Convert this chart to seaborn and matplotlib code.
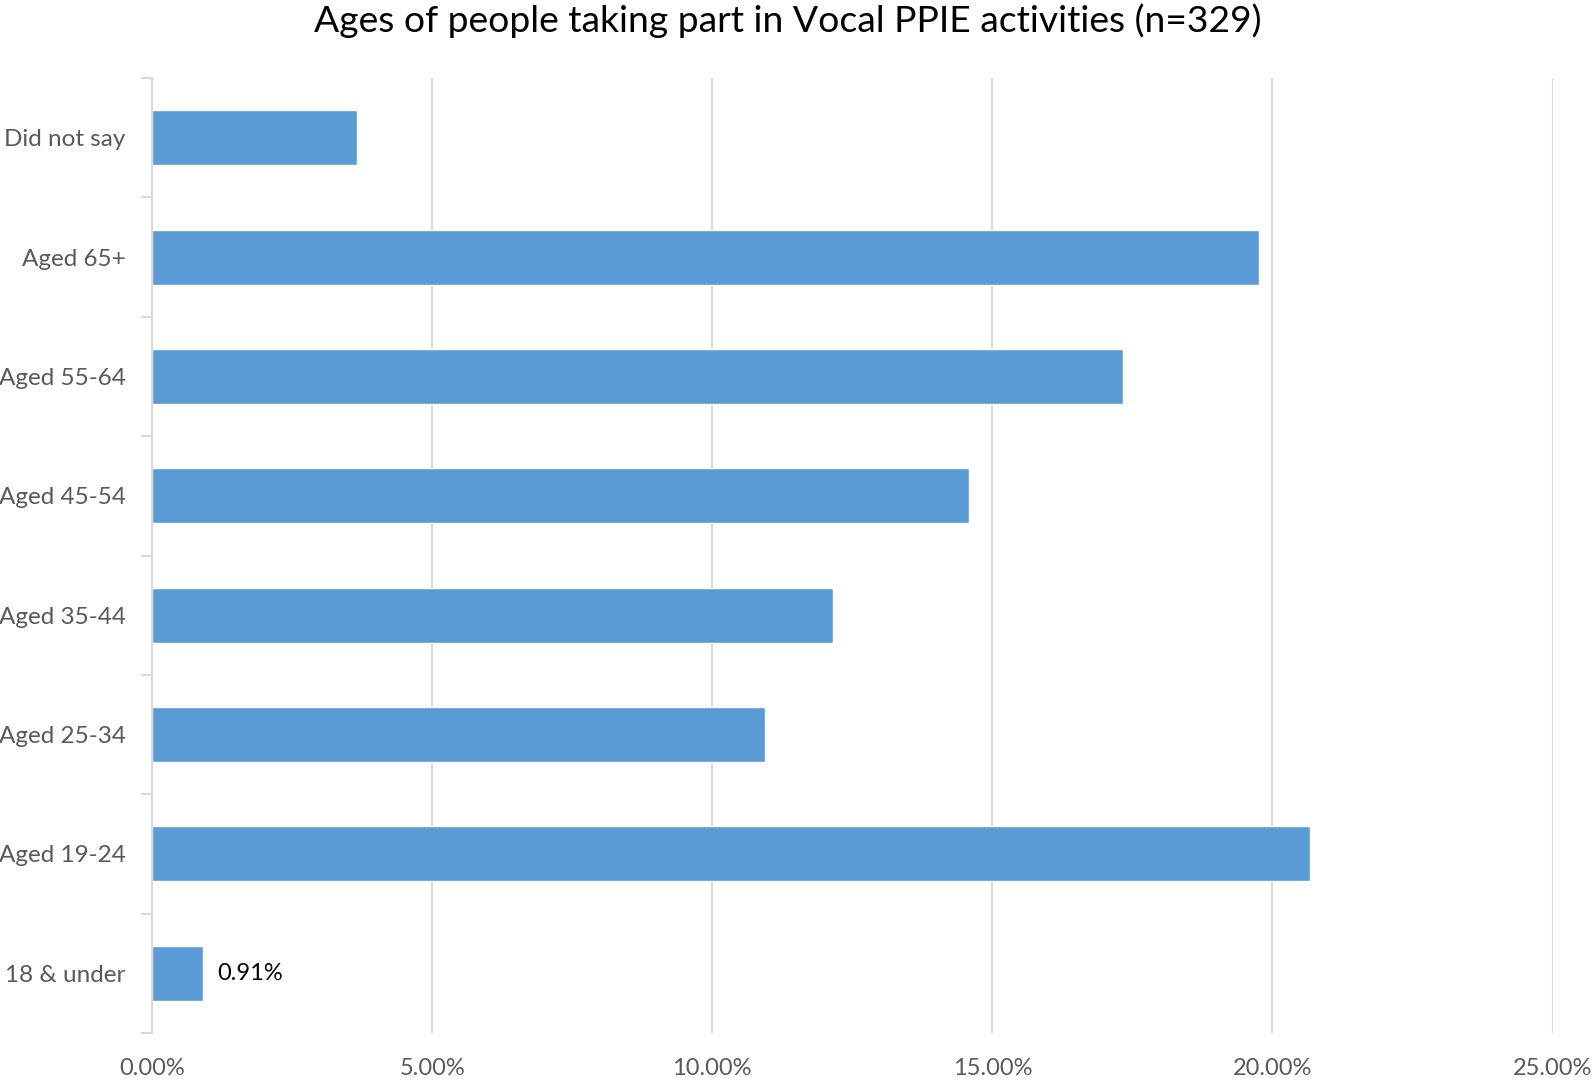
import matplotlib
matplotlib.use("Agg")
import matplotlib.pyplot as plt
import seaborn as sns
import pandas as pd
from matplotlib.ticker import FuncFormatter, FixedLocator

# Data (share of n=329 respondents, %)
age_groups = ["Did not say", "Aged 65+", "Aged 55-64", "Aged 45-54",
              "Aged 35-44", "Aged 25-34", "Aged 19-24", "18 & under"]
percentages = [3.65, 19.76, 17.33, 14.59, 12.16, 10.94, 20.67, 0.91]
x_ticks = [0, 5, 10, 15, 20, 25]

df = pd.DataFrame({"Age": age_groups, "Percent": percentages})

sns.set_style("white")
plt.rcParams['font.family'] = ['Lato', 'DejaVu Sans']

fig = plt.figure(figsize=(15.94, 10.85), dpi=100)
ax = fig.add_axes([0.0954, 0.048, 0.8786, 0.880])

sns.barplot(data=df, y="Age", x="Percent", order=age_groups, orient="h",
            color="#5B9BD5", saturation=1, width=0.46, ax=ax)

ax.set_xlim(0, 25)
ax.set_ylim(len(age_groups) - 0.5, -0.5)
ax.set_xticks(x_ticks)
ax.xaxis.set_major_formatter(FuncFormatter(lambda v, p: f"{v:.2f}%"))
ax.grid(axis="x", color="#D9D9D9", linewidth=1.5)
ax.set_axisbelow(True)

for s in ["top", "right", "bottom"]:
    ax.spines[s].set_visible(False)
ax.spines["left"].set_color("#D9D9D9")
ax.spines["left"].set_linewidth(1.5)

# category boundary ticks on the left axis
ax.yaxis.set_minor_locator(FixedLocator([i - 0.5 for i in range(len(age_groups) + 1)]))
ax.tick_params(axis="y", which="minor", length=8, width=1.5, color="#D9D9D9", left=True)
ax.tick_params(axis="y", which="major", length=0, pad=19, labelsize=17.5, labelcolor="#595959")
ax.tick_params(axis="x", length=0, pad=18, labelsize=17, labelcolor="#595959")

ax.set_xlabel("")
ax.set_ylabel("")

# only the smallest bar has a visible data label
last = len(age_groups) - 1
ax.text(percentages[last] + 0.25, last, f"{percentages[last]:.2f}%",
        va="center", ha="left", fontsize=17, color="#000000")

fig.suptitle("Ages of people taking part in Vocal PPIE activities (n=329)",
             x=0.494, y=0.997, fontsize=26.8, color="#000000")

fig.savefig("out.png", dpi=100)
